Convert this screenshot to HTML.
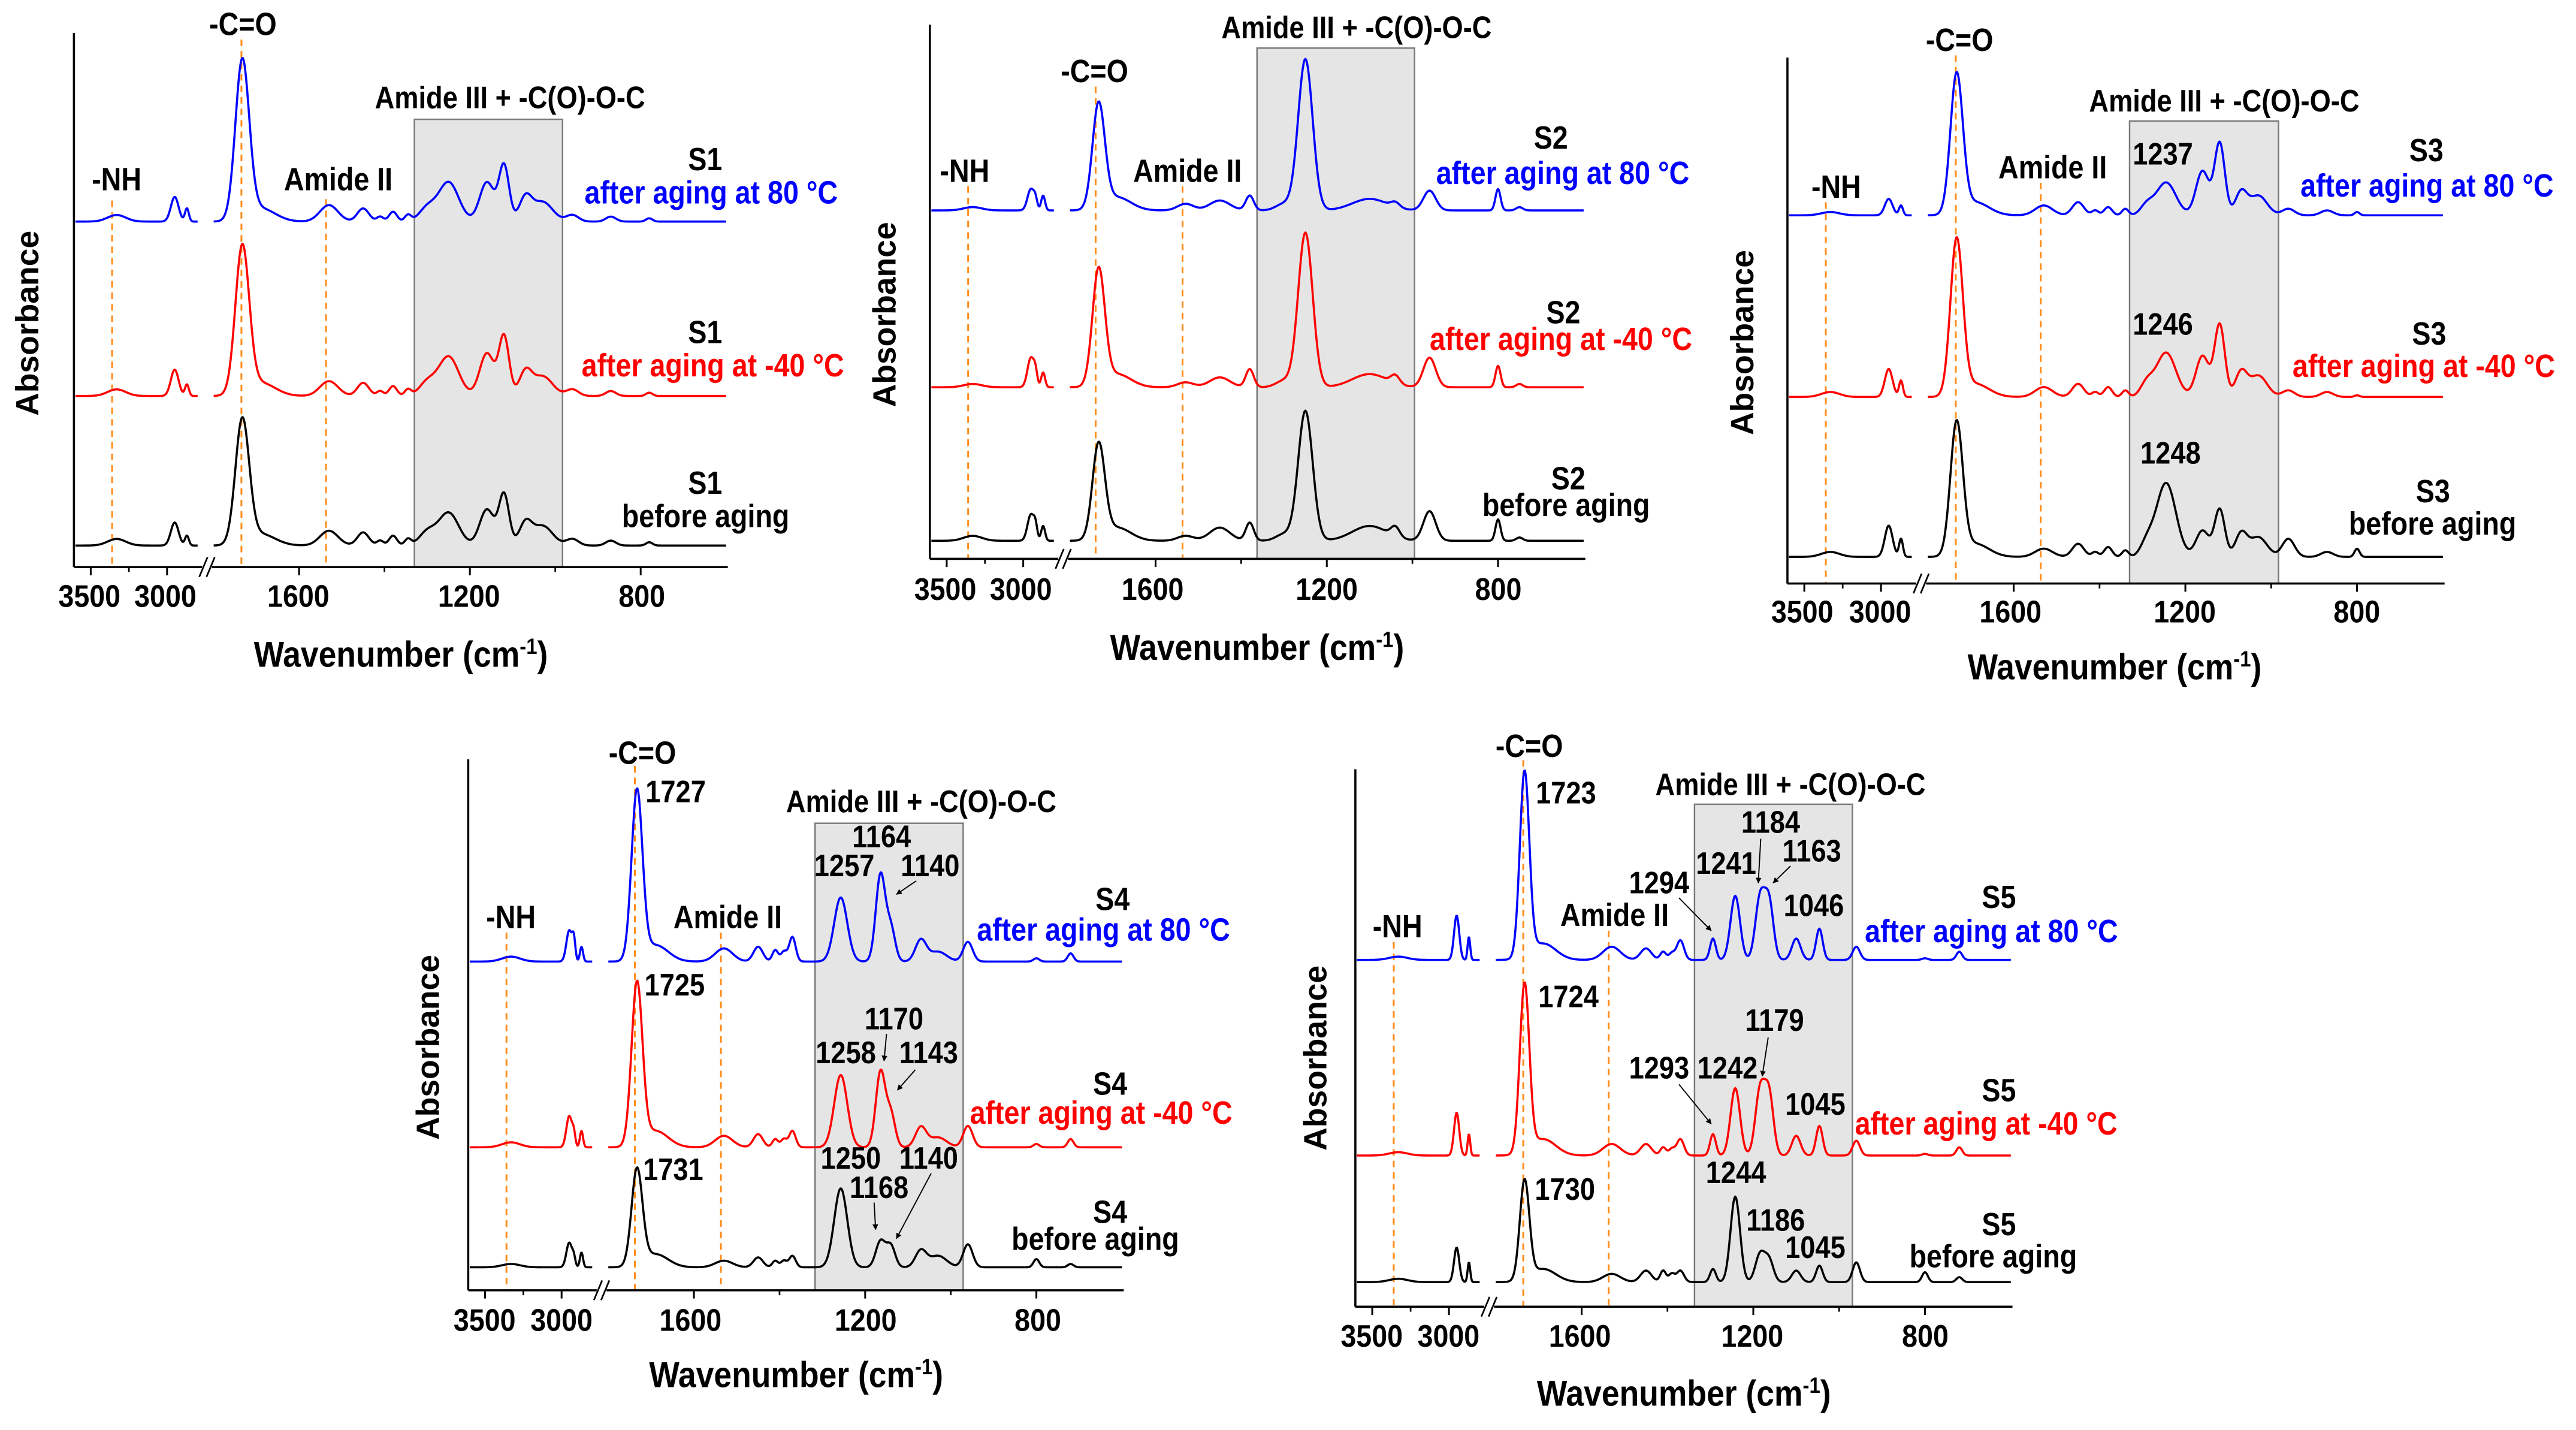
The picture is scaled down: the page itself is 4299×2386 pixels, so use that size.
<!DOCTYPE html>
<html><head><meta charset="utf-8">
<style>
html,body{margin:0;padding:0;background:#fff;}
svg{display:block;}
text{font-family:"Liberation Sans",Arial,sans-serif;font-weight:bold;}
</style></head>
<body>
<svg id="fig" xmlns="http://www.w3.org/2000/svg" width="4299" height="2386" viewBox="0 0 1568 870" preserveAspectRatio="none">
<defs>
<marker id="arr" viewBox="0 0 10 10" refX="9" refY="5" markerWidth="5" markerHeight="5" orient="auto"><path d="M0,0 L10,5 L0,10 z" fill="#000"/></marker>
</defs>
</svg>
<script>
// ---------- DATA (wavenumber cm-1, absorbance a.u.) ----------
const p1Centers=[3330,2950,2870,1733,1690,1530,1450,1410,1380,1345,1300,1250,1160,1120,1070,1030,960,870,780];
const p1Widths =[70,30,15,19,40,25,16,9,11,9,22,28,20,14,17,28,17,14,9];
const p1Blue =[4,15,8,96,8,10,8,3,6,4,8,24,24,34,14,12,4,3,2];
const p1Red  =[4,16,7,89,8,9,8,3,6,4,8,24,26,36,14,12,4,3,2];
const p1Black=[4,14,6,75,7,9,8,3,6,4,8,20,22,31,13,12,4,3,2];

const p2Centers=[3330,2950,2920,2870,1733,1690,1530,1450,1380,1300,1250,1100,1040,960,800,750];
const p2Widths =[70,26,14,15,17,38,22,28,11,22,20,48,12,17,7,9];
const p2Blue =[2,13,5,9,63,8,4,6,9,4,92,7,3,12,13,2];
const p2Red  =[2,18,7,9,70,8,3,6,11,4,94,8,5,18,13,2];
const p2Black=[3,16,7,9,57,8,3,8,11,4,79,9,6,18,13,2];

const p3Centers=[3330,2950,2870,1733,1690,1530,1450,1410,1380,1340,1290,1245,1160,1120,1070,1030,960,870,800];
const p3Widths =[70,30,15,17,38,24,16,9,11,9,17,27,18,14,16,24,17,17,7];
const p3Blue =[2,10,6,84,8,6,8,3,5,4,6,20,27,44,14,12,4,3,2];
const p3Red  =[3,17,10,94,8,6,8,3,6,4,8,27,25,44,15,13,4,3,1];
const p3Black=[3,19,11,80,8,5,8,3,6,4,8,45,16,29,14,12,11,3,5];

const p4Centers=[3330,2950,2920,2870,1733,1690,1530,1450,1410,1390,1370,1257,1164,1140,1070,1030,960,800,720];
const p4Widths =[70,22,12,12,15,35,24,13,8,8,9,18,13,12,15,24,13,8,8];
const p4Blue =[3,19,12,9,102,10,8,9,7,6,15,39,53,20,13,6,12,2,5];
const p4Red  =[3,19,7,10,98,10,7,8,5,5,10,44,46,20,12,6,13,2,5];
const p4Black=[2,15,5,9,58,8,4,6,4,4,7,48,16,13,10,7,14,5,2];

const p5Centers=[3330,2950,2870,1733,1690,1530,1450,1410,1390,1370,1294,1242,1184,1163,1100,1046,960,800,720];
const p5Widths =[70,20,10,13,35,24,15,8,8,10,8,13,13,12,12,9,10,8,8];
const p5Blue =[2,27,14,112,10,8,7,5,4,12,13,39,38,34,13,19,8,1,5];
const p5Red  =[2,26,13,102,10,7,7,5,4,10,13,41,40,36,12,18,9,1,5];
const p5Black=[2,21,12,60,8,5,7,7,5,7,8,52,17,13,7,10,12,6,3];

const tickValues=[3500,3000,1600,1200,800];
const minorTicks=[3250,1400,1000];
const seriesColors=['#0000ff','#ff0000','#000000'];

// ---------- PANEL LAYOUT ----------
const panels=[
 {id:'s1',name:'S1',zx:[135,1315],mx:[45,443],zy:[80,1285],my:[20,345],
  centers:p1Centers,widths:p1Widths,series:[p1Blue,p1Red,p1Black],base:[134.8,240.9,331.9],
  box:[1330,983,275],dash:[[3360,458],[1735,95],[1537,455]],
  txt:[['-C=O',440,85,'m'],['-NH',212,435,'m'],['Amide II',612,435,'m'],['Amide III + -C(O)-O-C',922,250,'m']],
  lab:[['S1',1305,390,'e','#000'],['after aging at 80 °C',1285,465,'m','#0000ff'],['S1',1305,780,'e','#000'],['after aging at -40 °C',1288,855,'m','#ff0000'],['S1',1305,1120,'e','#000'],['before aging',1275,1195,'m','#000']],
  ticks:[163,300,540,848,1160],tickY:1375,wn:[725,1510],ab:[50,735],ann:[],arrows:[]},
 {id:'s2',name:'S2',zx:[147,1465],mx:[566,965],zy:[65,1272],my:[15,340],
  centers:p2Centers,widths:p2Widths,series:[p2Blue,p2Red,p2Black],base:[128,235.6,329],
  box:[1363,995,118],dash:[[3360,430],[1740,205],[1537,430]],
  txt:[['-C=O',478,195,'m'],['-NH',217,420,'m'],['Amide II',665,420,'m'],['Amide III + -C(O)-O-C',1005,95,'m']],
  lab:[['S2',1430,345,'e','#000'],['after aging at 80 °C',1165,425,'s','#0000ff'],['S2',1455,740,'e','#000'],['after aging at -40 °C',1152,800,'s','#ff0000'],['S2',1465,1115,'e','#000'],['before aging',1258,1175,'s','#000']],
  ticks:[178,330,595,945,1290],tickY:1365,wn:[805,1500],ab:[55,720],ann:[],arrows:[]},
 {id:'s3',name:'S3',zx:[133,1332],mx:[1088,1488],zy:[110,1328],my:[35,355],
  centers:p3Centers,widths:p3Widths,series:[p3Blue,p3Red,p3Black],base:[131,241.5,338.8],
  box:[1330,983,257],dash:[[3360,445],[1735,105],[1537,400]],
  txt:[['-C=O',447,95,'m'],['-NH',222,435,'m'],['Amide II',617,390,'m'],['Amide III + -C(O)-O-C',930,235,'m']],
  lab:[['S3',1330,350,'e','#000'],['after aging at 80 °C',1300,432,'m','#0000ff'],['S3',1335,775,'e','#000'],['after aging at -40 °C',1294,850,'m','#ff0000'],['S3',1342,1140,'e','#000'],['before aging',1310,1215,'m','#000']],
  ticks:[160,302,540,858,1172],tickY:1418,wn:[730,1550],ab:[50,770],
  ann:[['1237',818,358],['1246',818,752],['1248',832,1050]],arrows:[]},
 {id:'s4',name:'S4',zx:[157,1478],mx:[285,684],zy:[95,1275],my:[462,785],
  centers:p4Centers,widths:p4Widths,series:[p4Blue,p4Red,p4Black],base:[585,698,771],
  box:[1317,971,237],dash:[[3360,480],[1738,110],[1537,480]],
  txt:[['-C=O',508,105,'m'],['-NH',243,470,'m'],['Amide II',680,470,'m'],['Amide III + -C(O)-O-C',1070,212,'m']],
  lab:[['S4',1490,430,'e','#000'],['after aging at 80 °C',1182,498,'s','#0000ff'],['S4',1485,840,'e','#000'],['after aging at -40 °C',1168,905,'s','#ff0000'],['S4',1485,1125,'e','#000'],['before aging',1252,1185,'s','#000']],
  ticks:[190,345,605,958,1305],tickY:1365,wn:[818,1490],ab:[75,735],
  ann:[['1727',575,190],['1164',990,290],['1257',915,355],['1140',1088,355],['1725',573,620],['1170',1015,695],['1258',918,770],['1143',1085,770],['1731',570,1030],['1250',928,1005],['1140',1085,1005],['1168',985,1070]],
  arrows:[[1060,365,1020,395],[1000,705,995,765],[1058,785,1022,830],[975,1080,978,1140],[1090,1015,1020,1160]]},
 {id:'s5',name:'S5',zx:[137,1463],mx:[825,1225],zy:[115,1297],my:[468,795],
  centers:p5Centers,widths:p5Widths,series:[p5Blue,p5Red,p5Black],base:[584,703,780],
  box:[1337,969,192],dash:[[3360,495],[1736,95],[1537,470]],
  txt:[['-C=O',488,88,'m'],['-NH',222,485,'m'],['Amide II',660,460,'m'],['Amide III + -C(O)-O-C',1015,172,'m']],
  lab:[['S5',1470,420,'e','#000'],['after aging at 80 °C',1165,495,'s','#0000ff'],['S5',1470,845,'e','#000'],['after aging at -40 °C',1145,918,'s','#ff0000'],['S5',1470,1140,'e','#000'],['before aging',1255,1210,'s','#000']],
  ticks:[170,325,590,938,1287],tickY:1385,wn:[800,1515],ab:[55,750],
  ann:[['1723',562,190],['1184',975,255],['1241',885,345],['1163',1058,318],['1294',750,388],['1046',1062,438],['1724',567,638],['1179',983,690],['1293',750,795],['1242',888,795],['1045',1065,875],['1730',560,1062],['1244',905,1025],['1186',985,1130],['1045',1065,1190]],
  arrows:[[955,268,950,365],[1015,328,980,365],[790,398,855,470],[970,705,958,790],[790,808,855,895]]}
];

const NS='http://www.w3.org/2000/svg';
const svg=document.getElementById('fig');
function mk(tag,attrs,parent){const e=document.createElementNS(NS,tag);for(const k in attrs)e.setAttribute(k,attrs[k]);(parent||svg).appendChild(e);return e;}
function mX(p,z){return p.mx[0]+(z-p.zx[0])*(p.mx[1]-p.mx[0])/(p.zx[1]-p.zx[0]);}
function mY(p,z){return p.my[0]+(z-p.zy[0])*(p.my[1]-p.my[0])/(p.zy[1]-p.zy[0]);}
// broken wavenumber axis
function frac(w){return w>=2200?(3610-w)/850*0.1985:0.2085+(1808-w)/1212*0.7915;}
function wX(p,w){return p.mx[0]+frac(w)*(p.mx[1]-p.mx[0]);}
function absorb(p,s,w){let v=0;for(let i=0;i<p.centers.length;i++){const sg=p.widths[i]/1.18;const d=(w-p.centers[i])/sg;v+=s[i]*Math.exp(-0.5*d*d);}return v;}
function anchorOf(a){return a==='m'?'middle':a==='e'?'end':'start';}
// tall condensed text look: scale vertically around baseline
function tall(el,x,y,sy){el.setAttribute('transform','translate('+x+' '+y+') scale(1 '+sy+') translate('+(-x)+' '+(-y)+')');}

panels.forEach(p=>{
  const g=mk('g',{});
  
  
  const yB=p.my[1], yT=p.my[0];
  const bx1=wX(p,p.box[0]), bx2=wX(p,p.box[1]), by=mY(p,p.box[2]);
  const box=mk('rect',{x:bx1,y:by,width:bx2-bx1,height:yB-by,fill:'#e5e5e5',stroke:'#7a7a7a','stroke-width':0.9},g);
  
  
  p.dash.forEach((d,i)=>{
    const x=wX(p,d[0]);
    const l=mk('line',{x1:x,x2:x,y1:mY(p,d[1]),y2:yB,stroke:'#ff8c1a','stroke-width':1.1,'stroke-dasharray':'4,3'},g);
    
    
  });
  p.series.forEach((s,si)=>{
    let d='';
    for(let w=3600;w>=2800;w-=4){d+=(w===3600?'M':'L')+wX(p,w).toFixed(2)+','+(p.base[si]-absorb(p,s,w)).toFixed(2);}
    for(let w=1800;w>=600;w-=2){d+=(w===1800?'M':'L')+wX(p,w).toFixed(2)+','+(p.base[si]-absorb(p,s,w)).toFixed(2);}
    const path=mk('path',{d:d,fill:'none',stroke:seriesColors[si],'stroke-width':1.3,'stroke-linejoin':'round'},g);
    
    
  });
  const ya=mk('line',{x1:p.mx[0],x2:p.mx[0],y1:yT,y2:yB,stroke:'#000','stroke-width':1.3},g);
  
  
  const xa=mk('line',{x1:p.mx[0],x2:p.mx[1],y1:yB,y2:yB,stroke:'#000','stroke-width':1.3},g);
  
  
  const bxm=p.mx[0]+0.2035*(p.mx[1]-p.mx[0]);
  const gap=mk('rect',{x:bxm-3,y:yB-2,width:6,height:4,fill:'#fff'},g);
  
  
  [-2.2,2.2].forEach(o=>{
    const b=mk('line',{x1:bxm+o-2.5,y1:yB+6,x2:bxm+o+2.5,y2:yB-6,stroke:'#000','stroke-width':1},g);
    
    
  });
  tickValues.forEach((v,i)=>{
    const x=wX(p,v);
    const t=mk('line',{x1:x,x2:x,y1:yB,y2:yB+5,stroke:'#000','stroke-width':1.1},g);
    
    
    const tx=mX(p,p.ticks[i]), ty=mY(p,p.tickY);
    const tl=mk('text',{x:tx,y:ty,'text-anchor':'middle','font-size':17},g);
    tl.textContent=String(v);
    tall(tl,tx,ty,1.12);
    
    
  });
  minorTicks.forEach(v=>{
    const x=wX(p,v);
    const t=mk('line',{x1:x,x2:x,y1:yB,y2:yB+3,stroke:'#000','stroke-width':1},g);
    
    
  });
  p.txt.forEach((t,i)=>{
    const x=mX(p,t[1]), y=mY(p,t[2]);
    const e=mk('text',{x:x,y:y,'text-anchor':anchorOf(t[3]),'font-size':i===3?16.5:17},g);
    e.textContent=t[0];
    tall(e,x,y,1.15);
    
    
  });
  p.lab.forEach((t,i)=>{
    const x=mX(p,t[1]), y=mY(p,t[2]);
    const e=mk('text',{x:x,y:y,'text-anchor':anchorOf(t[3]),'font-size':17,fill:t[4]},g);
    e.textContent=t[0];
    tall(e,x,y,1.15);
    
    
  });
  p.ann.forEach(t=>{
    const x=mX(p,t[1]), y=mY(p,t[2]);
    const e=mk('text',{x:x,y:y,'text-anchor':'middle','font-size':16.5},g);
    e.textContent=t[0];
    tall(e,x,y,1.15);
    
    
  });
  p.arrows.forEach(a=>{
    const e=mk('line',{x1:mX(p,a[0]),y1:mY(p,a[1]),x2:mX(p,a[2]),y2:mY(p,a[3]),stroke:'#000','stroke-width':0.7,'marker-end':'url(#arr)'},g);
    
    
  });
  const wx=mX(p,p.wn[0]), wy=mY(p,p.wn[1]);
  const wt=mk('text',{x:wx,y:wy,'text-anchor':'middle','font-size':19.5},g);
  
  
  wt.appendChild(document.createTextNode('Wavenumber (cm'));
  const sup=mk('tspan',{dy:-7,'font-size':12},wt);
  sup.textContent='-1';
  const cl=mk('tspan',{dy:7},wt);
  cl.textContent=')';
  tall(wt,wx,wy,1.12);
  const ax=mX(p,p.ab[0]), ay=mY(p,p.ab[1]);
  const at=mk('text',{x:ax,y:ay,'text-anchor':'middle','font-size':19.5,transform:'rotate(-90 '+ax+' '+ay+')',dy:7},g);
  at.textContent='Absorbance';
  
  
});
</script>
</body></html>
